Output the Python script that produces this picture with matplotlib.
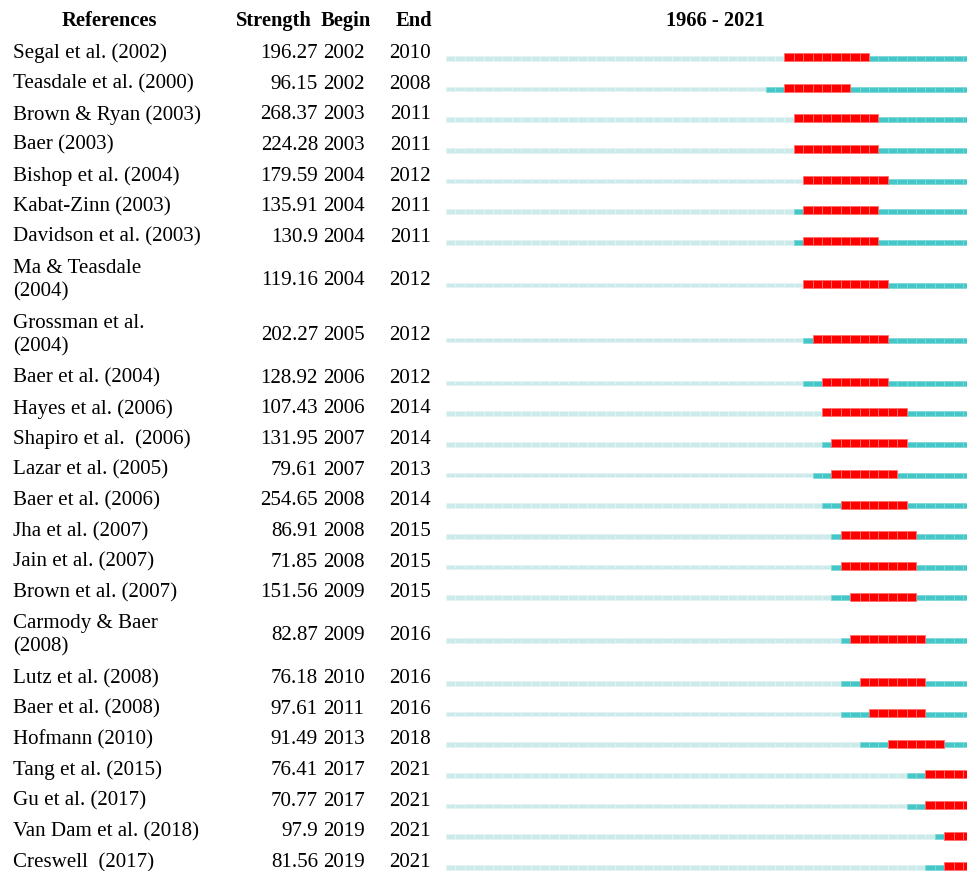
import matplotlib
matplotlib.use("Agg")
import matplotlib.pyplot as plt
import numpy as np

# citation bursts, top 25 references
refs = ["Segal et al. (2002)", "Teasdale et al. (2000)", "Brown & Ryan (2003)", "Baer (2003)",
        "Bishop et al. (2004)", "Kabat-Zinn (2003)", "Davidson et al. (2003)", "Ma & Teasdale\n(2004)",
        "Grossman et al.\n(2004)", "Baer et al. (2004)", "Hayes et al. (2006)", "Shapiro et al.  (2006)",
        "Lazar et al. (2005)", "Baer et al. (2006)", "Jha et al. (2007)", "Jain et al. (2007)",
        "Brown et al. (2007)", "Carmody & Baer\n(2008)", "Lutz et al. (2008)", "Baer et al. (2008)",
        "Hofmann (2010)", "Tang et al. (2015)", "Gu et al. (2017)", "Van Dam et al. (2018)",
        "Creswell  (2017)"]
strength = [196.27, 96.15, 268.37, 224.28, 179.59, 135.91, 130.9, 119.16, 202.27, 128.92,
            107.43, 131.95, 79.61, 254.65, 86.91, 71.85, 151.56, 82.87, 76.18, 97.61,
            91.49, 76.41, 70.77, 97.9, 81.56]
begin = [2002, 2002, 2003, 2003, 2004, 2004, 2004, 2004, 2005, 2006, 2006, 2007, 2007,
         2008, 2008, 2008, 2009, 2009, 2010, 2011, 2013, 2017, 2017, 2019, 2019]
end = [2010, 2008, 2011, 2011, 2012, 2011, 2011, 2012, 2012, 2012, 2014, 2014, 2013,
       2014, 2015, 2015, 2015, 2016, 2016, 2016, 2018, 2021, 2021, 2021, 2021]
# year the reference first shows up in the timeline (dark segment start)
first = [2002, 2000, 2003, 2003, 2004, 2003, 2003, 2004, 2004, 2004, 2006, 2006, 2005,
         2006, 2007, 2007, 2007, 2008, 2008, 2008, 2010, 2015, 2015, 2018, 2017]
year_min, year_max = 1966, 2021

W, H = 967, 871
fig = plt.figure(figsize=(W / 100, H / 100), dpi=100)
plt.rcParams['font.family'] = ['Liberation Serif', 'DejaVu Serif']

# text layer in pixel coordinates
tax = fig.add_axes([0, 0, 1, 1])
tax.set_xlim(0, W)
tax.set_ylim(H, 0)
tax.axis("off")

# timeline layer in years
bax = fig.add_axes([446 / W, 0, 521 / W, 1])
bax.set_xlim(year_min, year_min + 521 / 9.4)
bax.set_ylim(H, 0)
bax.axis("off")

fs = 15.1
hfs = 14.8
single_h, double_h, top = 30.67, 55.0, 38.0

hy = 21
tax.text(109, hy, "References", ha="center", va="center", fontsize=hfs, fontweight="bold")
tax.text(274, hy, "Strength", ha="center", va="center", fontsize=hfs, fontweight="bold")
tax.text(346, hy, "Begin", ha="center", va="center", fontsize=hfs, fontweight="bold")
tax.text(414, hy, "End", ha="center", va="center", fontsize=hfs, fontweight="bold")
tax.text(715, hy, f"{year_min} - {year_max}", ha="center", va="center", fontsize=hfs, fontweight="bold")

light = "#cdeaea"
dark = "#45c7c7"
red = "#ff0000"

y = top
for i, ref in enumerate(refs):
    rh = double_h if "\n" in ref else single_h
    yc = y + rh / 2
    y += rh

    tax.text(13, yc, ref, ha="left", va="center", fontsize=fs, linespacing=1.3)
    tax.text(318, yc, str(strength[i]), ha="right", va="center", fontsize=fs)
    tax.text(323, yc, str(begin[i]), ha="left", va="center", fontsize=fs)
    tax.text(431, yc, str(end[i]), ha="right", va="center", fontsize=fs)

    yrs = np.arange(year_min, year_max + 1)
    by = yc + 5
    pre = yrs[yrs < first[i]]
    post = yrs[(yrs >= first[i]) & ((yrs < begin[i]) | (yrs > end[i]))]
    burst = yrs[(yrs >= begin[i]) & (yrs <= end[i])]
    bax.barh(np.full(len(pre), by), 1, left=pre, height=4.5, color=light,
             edgecolor="#e4f4f4", linewidth=0.6)
    bax.barh(np.full(len(post), by), 1, left=post, height=5, color=dark,
             edgecolor="#7fd9d9", linewidth=0.6)
    bax.barh(np.full(len(burst), by - 1.2), 1, left=burst, height=8, color=red,
             edgecolor="#ff7070", linewidth=0.6)

fig.savefig("out.png", dpi=100)
